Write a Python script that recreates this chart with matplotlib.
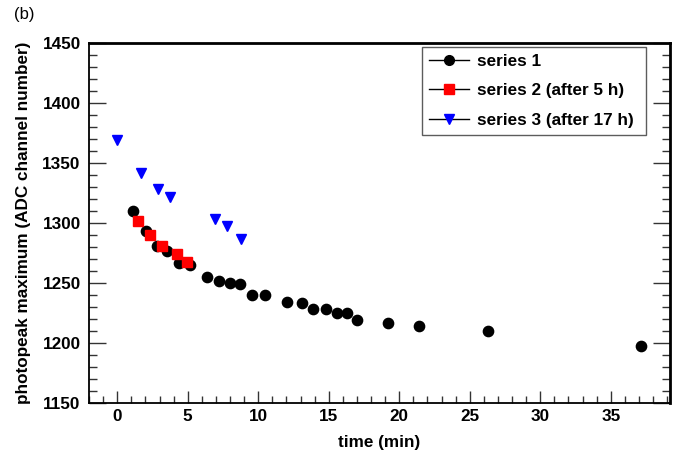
import matplotlib
matplotlib.use("Agg")
import matplotlib.pyplot as plt
from matplotlib.lines import Line2D
from matplotlib.ticker import MultipleLocator

plt.rcParams['font.family'] = ['Liberation Sans', 'DejaVu Sans']

# Data
s1_t = [1.13, 2.03, 2.81, 3.56, 4.39, 5.15, 6.35, 7.2, 7.98, 8.71, 9.59, 10.46,
        12.02, 13.13, 13.86, 14.78, 15.58, 16.32, 17.03, 19.23, 21.4, 26.31, 37.16]
s1_y = [1310, 1293.3, 1280.8, 1276.7, 1266.9, 1264.8, 1254.7, 1251.4, 1249.8, 1249.4,
        1240, 1240, 1234.2, 1233.3, 1228, 1228.6, 1225.3, 1225.3, 1219.2,
        1216.4, 1214.4, 1210, 1197.5]

s2_t = [1.48, 2.33, 3.21, 4.22, 4.98]
s2_y = [1301.9, 1289.8, 1280.8, 1274.4, 1267.5]

s3_t = [0.0, 1.67, 2.86, 3.71, 6.94, 7.79, 8.78]
s3_y = [1369.2, 1341.4, 1328, 1322, 1303, 1297.8, 1286.4]

labels = ["series 1", "series 2 (after 5 h)", "series 3 (after 17 h)"]

FS = 12.3

fig = plt.figure(figsize=(6.78, 4.59), dpi=100)
ax = fig.add_axes([89/678, 1-403/459, (670-89)/678, (403-43)/459])

ax.plot(s1_t, s1_y, 'o', color='black', markersize=7.4, linestyle='none', zorder=3)
ax.plot(s2_t, s2_y, 's', color='#ff0000', markersize=7.0, linestyle='none', zorder=4)
ax.plot(s3_t, s3_y, 'v', color='#0000ff', markersize=7.4, linestyle='none', zorder=3)

ax.set_xlim(-2, 39.2)
ax.set_ylim(1150, 1450)
ax.xaxis.set_major_locator(MultipleLocator(5))
ax.xaxis.set_minor_locator(MultipleLocator(1))
ax.yaxis.set_major_locator(MultipleLocator(50))
ax.yaxis.set_minor_locator(MultipleLocator(10))

ax.tick_params(axis='x', which='major', direction='in', length=9, width=1, color='#333333',
               top=False, bottom=True, pad=4.0, labelsize=FS)
ax.tick_params(axis='x', which='minor', direction='in', length=4.8, width=1, color='#333333',
               top=False, bottom=True)
ax.tick_params(axis='y', which='major', direction='in', length=12.5, width=1, color='#333333',
               left=True, right=True, pad=6.0, labelsize=FS)
ax.tick_params(axis='y', which='minor', direction='in', length=6, width=1, color='#333333',
               left=True, right=True)
for lab in ax.get_xticklabels() + ax.get_yticklabels():
    lab.set_fontweight('bold')

for side in ['left', 'bottom']:
    ax.spines[side].set_linewidth(1.3)
for side in ['top', 'right']:
    ax.spines[side].set_linewidth(2.0)

ax.set_xlabel("time (min)", fontsize=FS, fontweight='bold')
ax.set_ylabel("photopeak maximum (ADC channel number)", fontsize=FS, fontweight='bold')
ax.xaxis.set_label_coords(0.5, -0.111)
ax.yaxis.set_label_coords(-0.112, 0.5)
ax.xaxis.label.set_va('center')
ax.yaxis.label.set_va('center')

handles = [
    Line2D([], [], color='black', lw=1, marker='o', markerfacecolor='black',
           markeredgecolor='black', markersize=7),
    Line2D([], [], color='black', lw=1, marker='s', markerfacecolor='#ff0000',
           markeredgecolor='#ff0000', markersize=6.5),
    Line2D([], [], color='black', lw=1, marker='v', markerfacecolor='#0000ff',
           markeredgecolor='#0000ff', markersize=7),
]
x0 = (422-89)/581
w = (646-422)/581
ytop = (403-47)/360
leg = ax.legend(handles, labels, loc='upper left', mode='expand',
                bbox_to_anchor=(x0, ytop-0.4, w, 0.4),
                frameon=True, fancybox=False, shadow=False,
                prop={'weight': 'bold', 'size': FS}, handlelength=2.35,
                borderpad=0.4, labelspacing=0.85, handletextpad=0.45,
                borderaxespad=0)
leg.get_frame().set_edgecolor('#333333')
leg.get_frame().set_linewidth(1.0)

fig.text(14/678, 1-14/459, "(b)", fontsize=12, ha='left', va='center')

fig.savefig("out.png", dpi=100)
